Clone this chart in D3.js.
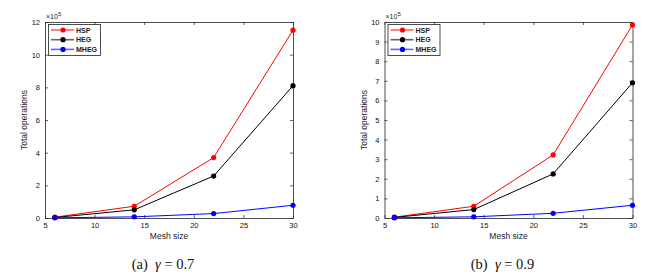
<!DOCTYPE html>
<html>
<head>
<meta charset="utf-8">
<script src="https://cdn.jsdelivr.net/npm/d3@7"></script>
<style>
body{margin:0;background:#fff}
svg{display:block;font-family:"Liberation Sans",Arial,sans-serif}
</style>
</head>
<body>
<svg id="chart" width="662" height="276"></svg>
<script>
// mesh sizes on the x axis
var meshSizes = [6, 14, 22, 30]
var xTicks = [5, 10, 15, 20, 25, 30]
var seriesNames = ["HSP", "HEG", "MHEG"]
var seriesColors = ["#ff0000", "#000000", "#0000ff"]

// values in units of 10^5
var hspA = [0.05, 0.72, 3.7, 11.5]
var hegA = [0.03, 0.5, 2.57, 8.1]
var mhegA = [0.01, 0.07, 0.27, 0.78]
var yTicksA = [0, 2, 4, 6, 8, 10, 12]

var hspB = [0.04, 0.6, 3.22, 9.85]
var hegB = [0.03, 0.43, 2.25, 6.9]
var mhegB = [0.01, 0.06, 0.24, 0.65]
var yTicksB = [0, 1, 2, 3, 4, 5, 6, 7, 8, 9, 10]

var panels = [
    {left:45, series:[hspA, hegA, mhegA], yTicks:yTicksA, yMax:12, label:"(a)", gamma:"0.7"},
    {left:384.5, series:[hspB, hegB, mhegB], yTicks:yTicksB, yMax:10, label:"(b)", gamma:"0.9"}
]
var plotW = 248, plotH = 196, plotTop = 22

var svg = d3.select("#chart")

var drawPanel = function(p)
{
    var g = svg.append("g").attr("transform","translate("+p.left+","+plotTop+")")

    var xScale = d3.scaleLinear().domain([5,30]).range([0,plotW])
    var yScale = d3.scaleLinear().domain([0,p.yMax]).range([plotH,0])

    // bottom + left axes with inward ticks
    var xAxis = d3.axisBottom(xScale).tickValues(xTicks).tickSizeInner(-3).tickSizeOuter(0).tickPadding(5)
    var yAxis = d3.axisLeft(yScale).tickValues(p.yTicks).tickSizeInner(-3).tickSizeOuter(0).tickPadding(5)
    var xTop = d3.axisTop(xScale).tickValues(xTicks).tickSizeInner(-3).tickSizeOuter(0).tickFormat("")
    var yRight = d3.axisRight(yScale).tickValues(p.yTicks).tickSizeInner(-3).tickSizeOuter(0).tickFormat("")

    g.append("g").attr("transform","translate(0,"+plotH+")").call(xAxis)
    g.append("g").call(yAxis)
    g.append("g").call(xTop)
    g.append("g").attr("transform","translate("+plotW+",0)").call(yRight)

    g.selectAll(".domain").attr("stroke","#222").attr("stroke-width",0.8)
    g.selectAll(".tick line").attr("stroke","#222").attr("stroke-width",0.7)
    g.selectAll(".tick text").attr("font-size",7.5).attr("fill","#111")
        .attr("font-family","'Liberation Sans',Arial,sans-serif")

    // exponent label
    var ex = g.append("text").attr("x",1).attr("y",-3).attr("font-size",7).attr("fill","#222")
    ex.append("tspan").text("\u00d710")
    ex.append("tspan").attr("dy",-3).attr("font-size",6).text("5")

    // lines and markers
    var line = d3.line()
        .x(function(d,i){return xScale(meshSizes[i])})
        .y(function(d){return yScale(d)})

    p.series.forEach(function(vals,si)
    {
        g.append("path").datum(vals)
            .attr("d",line)
            .attr("fill","none")
            .attr("stroke",seriesColors[si])
            .attr("stroke-width",1)
        g.selectAll(".pt"+si).data(vals).enter()
            .append("circle")
            .attr("cx",function(d,i){return xScale(meshSizes[i])})
            .attr("cy",function(d){return yScale(d)})
            .attr("r",2.6)
            .attr("fill",seriesColors[si])
    })

    // legend
    var lg = g.append("g").attr("transform","translate(3.5,2.5)")
    lg.append("rect").attr("width",52).attr("height",31)
        .attr("fill","#fff").attr("stroke","#222").attr("stroke-width",0.8)
    seriesNames.forEach(function(name,si)
    {
        var y = 5.5 + si*9.7
        lg.append("line").attr("x1",2.5).attr("x2",25.5).attr("y1",y).attr("y2",y)
            .attr("stroke",seriesColors[si]).attr("stroke-width",1.6).attr("opacity",0.6)
        lg.append("circle").attr("cx",14.5).attr("cy",y).attr("r",2.6).attr("fill",seriesColors[si])
        lg.append("text").attr("x",27.5).attr("y",y+2.5).attr("font-size",7)
            .attr("font-weight","bold").attr("fill","#222").text(name)
    })

    // axis titles
    g.append("text").attr("x",plotW/2).attr("y",plotH+20.5).attr("text-anchor","middle")
        .attr("font-size",8.5).attr("fill","#222").text("Mesh size")
    g.append("text").attr("transform","translate(-18,"+(plotH/2)+") rotate(-90)")
        .attr("text-anchor","middle").attr("font-size",8.5).attr("fill","#222").text("Total operations")

    // caption (serif)
    var cap = g.append("text").attr("x",plotW/2-6).attr("y",plotH+51).attr("text-anchor","middle")
        .style("font-size","14.5px").style("font-family","'Liberation Serif','Times New Roman',serif").attr("fill","#111")
    cap.append("tspan").text(p.label+"\u2002")
    cap.append("tspan").style("font-style","italic").text("\u03b3")
    cap.append("tspan").text(" = "+p.gamma)
}

panels.forEach(drawPanel)
</script>
</body>
</html>
